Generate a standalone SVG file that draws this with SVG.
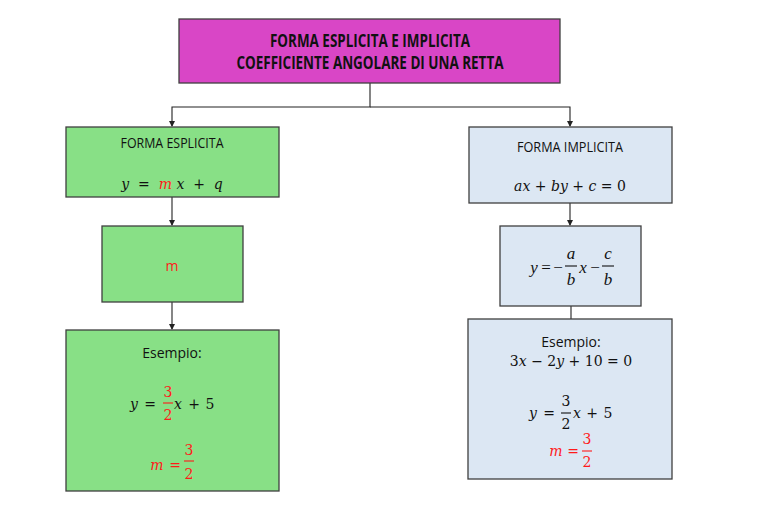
<svg xmlns="http://www.w3.org/2000/svg" width="768" height="512" viewBox="0 0 768 512">
<defs>
<marker id="ah" markerWidth="6" markerHeight="6" refX="5" refY="3" orient="auto" markerUnits="userSpaceOnUse">
<path d="M0,0 L6,3 L0,6 Z" fill="#222"/>
</marker>
<style>
.box{stroke:#3f3f3f;stroke-width:1.3}
.mag{fill:#D946C6}
.grn{fill:#88E086}
.blu{fill:#DCE7F3}
.lbl{font-family:"Open Sans","Liberation Sans",sans-serif;font-size:14px;fill:#111;text-anchor:middle}
.ttl{font-family:"Open Sans","Liberation Sans",sans-serif;font-size:17px;font-weight:bold;fill:#111;text-anchor:middle}
.mth{font-family:"DejaVu Serif","Liberation Serif",serif;font-size:14px;fill:#111}
.it{font-style:italic}
.sf{font-family:"Liberation Serif",serif;font-size:17px;fill:#111}
.red{fill:#FF1A1A}
.con{stroke:#222;stroke-width:1.1;fill:none}
.bar{stroke-width:1.1}
</style>
</defs>
<g id="connectors">
<path class="con" d="M370,83 V107 H172 V126" marker-end="url(#ah)"/>
<path class="con" d="M370,107 H570 V126" marker-end="url(#ah)"/>
<path class="con" d="M172,197 V225" marker-end="url(#ah)"/>
<path class="con" d="M172,302 V329" marker-end="url(#ah)"/>
<path class="con" d="M570,203 V225" marker-end="url(#ah)"/>
<path class="con" d="M571,306 V333" marker-end="url(#ah)"/>
</g>
<g id="title">
<rect class="box mag" x="179" y="19" width="381" height="64"/>
<text class="ttl" x="370" y="47" textLength="200" lengthAdjust="spacingAndGlyphs">FORMA ESPLICITA E IMPLICITA</text>
<text class="ttl" x="370" y="69" textLength="267" lengthAdjust="spacingAndGlyphs">COEFFICIENTE ANGOLARE DI UNA RETTA</text>
</g>
<g id="esplicita">
<rect class="box grn" x="66" y="127" width="213" height="70"/>
<text class="lbl" x="172" y="148" textLength="103" lengthAdjust="spacingAndGlyphs">FORMA ESPLICITA</text>
<text class="mth" x="172" y="189" text-anchor="middle" xml:space="preserve"><tspan class="it">y</tspan>  =  <tspan class="it red">m</tspan> <tspan class="it">x</tspan>  +  <tspan class="it">q</tspan></text>
</g>
<g id="m-box">
<rect class="box grn" x="102" y="226" width="141" height="76"/>
<text class="lbl red" x="172" y="271" font-size="15">m</text>
</g>
<g id="esempio-esplicita">
<rect class="box grn" x="66" y="330" width="213" height="161"/>
<text class="lbl" x="172" y="358">Esempio:</text>
<text class="mth it" x="134" y="409" text-anchor="middle">y</text>
<text class="mth" x="150" y="409" text-anchor="middle">=</text>
<text class="mth red" x="168" y="397" text-anchor="middle">3</text>
<line class="bar" x1="163" y1="403" x2="173" y2="403" stroke="#FF1A1A"/>
<text class="mth red" x="168" y="420" text-anchor="middle">2</text>
<text class="mth it" x="178" y="409" text-anchor="middle">x</text>
<text class="mth" x="194" y="409" text-anchor="middle">+</text>
<text class="mth" x="210" y="409" text-anchor="middle">5</text>
<text class="mth it red" x="157" y="470" text-anchor="middle">m</text>
<text class="mth red" x="175" y="470" text-anchor="middle">=</text>
<text class="mth red" x="189" y="455" text-anchor="middle">3</text>
<line class="bar" x1="184" y1="461" x2="194" y2="461" stroke="#FF1A1A"/>
<text class="mth red" x="189" y="479" text-anchor="middle">2</text>
</g>
<g id="implicita">
<rect class="box blu" x="469" y="127" width="203" height="76"/>
<text class="lbl" x="570" y="152" textLength="106" lengthAdjust="spacingAndGlyphs">FORMA IMPLICITA</text>
<text class="mth" x="570" y="191" text-anchor="middle" font-size="13.5" xml:space="preserve"><tspan class="it">ax</tspan> + <tspan class="it">by</tspan> + <tspan class="it">c</tspan> = 0</text>
</g>
<g id="formula-box">
<rect class="box blu" x="500" y="226" width="141" height="80"/>
<text class="sf it" x="534" y="273" text-anchor="middle">y</text>
<text class="sf" x="546" y="273" text-anchor="middle">=</text>
<text class="sf" x="558" y="273" text-anchor="middle">−</text>
<text class="sf it" x="571" y="259" text-anchor="middle">a</text>
<line class="bar" x1="565" y1="266" x2="577" y2="266" stroke="#111"/>
<text class="sf it" x="571" y="285" text-anchor="middle">b</text>
<text class="sf it" x="583" y="273" text-anchor="middle">x</text>
<text class="sf" x="595" y="273" text-anchor="middle">−</text>
<text class="sf it" x="608" y="259" text-anchor="middle">c</text>
<line class="bar" x1="602" y1="266" x2="614" y2="266" stroke="#111"/>
<text class="sf it" x="608" y="285" text-anchor="middle">b</text>
</g>
<g id="esempio-implicita">
<rect class="box blu" x="468" y="319" width="204" height="160"/>
<text class="lbl" x="571" y="347">Esempio:</text>
<text class="mth" x="571" y="366" text-anchor="middle" font-size="13.5" xml:space="preserve">3<tspan class="it">x</tspan> − 2<tspan class="it">y</tspan> + 10 = 0</text>
<text class="mth it" x="533" y="418" text-anchor="middle">y</text>
<text class="mth" x="549" y="418" text-anchor="middle">=</text>
<text class="mth" x="566" y="406" text-anchor="middle">3</text>
<line class="bar" x1="561" y1="413" x2="571" y2="413" stroke="#111"/>
<text class="mth" x="566" y="429" text-anchor="middle">2</text>
<text class="mth it" x="577" y="418" text-anchor="middle">x</text>
<text class="mth" x="592" y="418" text-anchor="middle">+</text>
<text class="mth" x="608" y="418" text-anchor="middle">5</text>
<text class="mth it red" x="556" y="456" text-anchor="middle">m</text>
<text class="mth red" x="573" y="456" text-anchor="middle">=</text>
<text class="mth red" x="587" y="444" text-anchor="middle">3</text>
<line class="bar" x1="582" y1="451" x2="592" y2="451" stroke="#FF1A1A"/>
<text class="mth red" x="587" y="467" text-anchor="middle">2</text>
</g>
</svg>
